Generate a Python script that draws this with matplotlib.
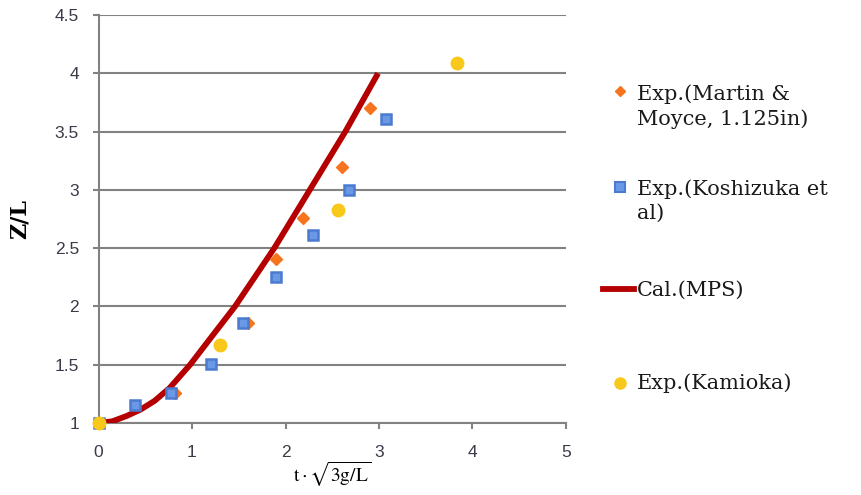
import matplotlib
matplotlib.use("Agg")
import matplotlib.pyplot as plt
from matplotlib.lines import Line2D

# Exp. (Martin & Moyce, 1.125in)
martin_x = [0.82, 1.60, 1.90, 2.19, 2.60, 2.90]
martin_y = [1.26, 1.86, 2.41, 2.76, 3.20, 3.70]

# Exp. (Koshizuka et al)
kosh_x = [0.0, 0.39, 0.78, 1.20, 1.55, 1.90, 2.29, 2.68, 3.07]
kosh_y = [1.0, 1.155, 1.26, 1.51, 1.855, 2.25, 2.61, 3.00, 3.61]

# Exp. (Kamioka)
kami_x = [0.0, 1.30, 2.56, 3.83]
kami_y = [1.0, 1.67, 2.83, 4.085]

# Cal. (MPS)
mps_x = [0.0, 0.15, 0.30, 0.45, 0.60, 0.76, 0.98, 1.20, 1.46, 1.88, 2.26, 2.64, 2.99]
mps_y = [1.0, 1.015, 1.06, 1.115, 1.19, 1.30, 1.50, 1.73, 2.00, 2.50, 3.00, 3.50, 4.00]

x_ticks = [0, 1, 2, 3, 4, 5]
y_ticks = [1, 1.5, 2, 2.5, 3, 3.5, 4, 4.5]
y_ticklabels = ["1", "1.5", "2", "2.5", "3", "3.5", "4", "4.5"]

labels = ["Exp.(Martin &\nMoyce, 1.125in)", "Exp.(Koshizuka et\nal)", "Cal.(MPS)", "Exp.(Kamioka)"]

c_orange = "#F7741E"
c_blue = "#4A7BD0"
c_blue_in = "#6A98E4"
c_red = "#B40000"
c_yellow = "#F8C81A"
c_grid = "#828282"

plt.rcParams["font.family"] = ["DejaVu Serif"]
plt.rcParams["mathtext.fontset"] = "stix"

W, H = 861, 495
fig = plt.figure(figsize=(W / 100, H / 100), dpi=100)
ax = fig.add_axes([98.5 / W, 1 - 423 / H, (566 - 98.5) / W, (423 - 15) / H])

ax.plot(mps_x, mps_y, color=c_red, lw=4.2, solid_capstyle="butt", solid_joinstyle="round", zorder=3)
ax.plot(martin_x, martin_y, ls="none", marker="D", ms=6, color=c_orange, zorder=4, clip_on=False)
ax.plot(kosh_x, kosh_y, ls="none", marker="s", ms=7.5, mfc=c_blue_in, mec=c_blue, mew=1.8,
        zorder=4, clip_on=False)
ax.plot(kami_x, kami_y, ls="none", marker="o", ms=9, color=c_yellow, zorder=5, clip_on=False)

ax.set_xlim(0, 5)
ax.set_ylim(1, 4.5)
ax.set_xticks(x_ticks)
ax.set_yticks(y_ticks)
ax.set_yticklabels(y_ticklabels)
ax.grid(axis="y", color=c_grid, lw=1.5)
ax.set_axisbelow(True)
for s in ["top", "right"]:
    ax.spines[s].set_visible(False)
for s in ["left", "bottom"]:
    ax.spines[s].set_color(c_grid)
    ax.spines[s].set_linewidth(1.5)
ax.tick_params(axis="both", colors=c_grid, width=1.5, length=4.5, labelcolor="#3a3a48")
for t in ax.get_xticklabels() + ax.get_yticklabels():
    t.set_fontfamily("Liberation Sans")
    t.set_fontsize(12.5)
ax.tick_params(axis="x", pad=11.5)
ax.tick_params(axis="y", pad=9.5)

ax.set_ylabel("Z/L", fontsize=16, fontweight="bold")
ax.yaxis.set_label_coords(-0.145, 0.5)
ax.set_xlabel(r"$\mathrm{t}\cdot\sqrt{\mathrm{3g/L}}$", fontsize=14, labelpad=0)

# legend, laid out by hand like the Excel one
leg_x = 637 / W
text_y = [107, 201, 290, 383]
mark_y = [91, 187, 289, 383]
handles = [
    dict(ls="none", marker="D", ms=5.5, color=c_orange),
    dict(ls="none", marker="s", ms=6.5, mfc=c_blue_in, mec=c_blue, mew=1.5),
    dict(color=c_red, lw=4.2),
    dict(ls="none", marker="o", ms=8, color=c_yellow),
]
for lab, ty, my, hd in zip(labels, text_y, mark_y, handles):
    fig.text(leg_x, 1 - ty / H, lab, fontsize=15, va="center", ha="left",
             linespacing=1.35, color="#1a1a1a")
    if "marker" in hd:
        fig.add_artist(Line2D([620 / W], [1 - my / H], transform=fig.transFigure, **hd))
    else:
        fig.add_artist(Line2D([603 / W, 634 / W], [1 - my / H] * 2, transform=fig.transFigure, **hd))

fig.savefig("out.png", dpi=100)
